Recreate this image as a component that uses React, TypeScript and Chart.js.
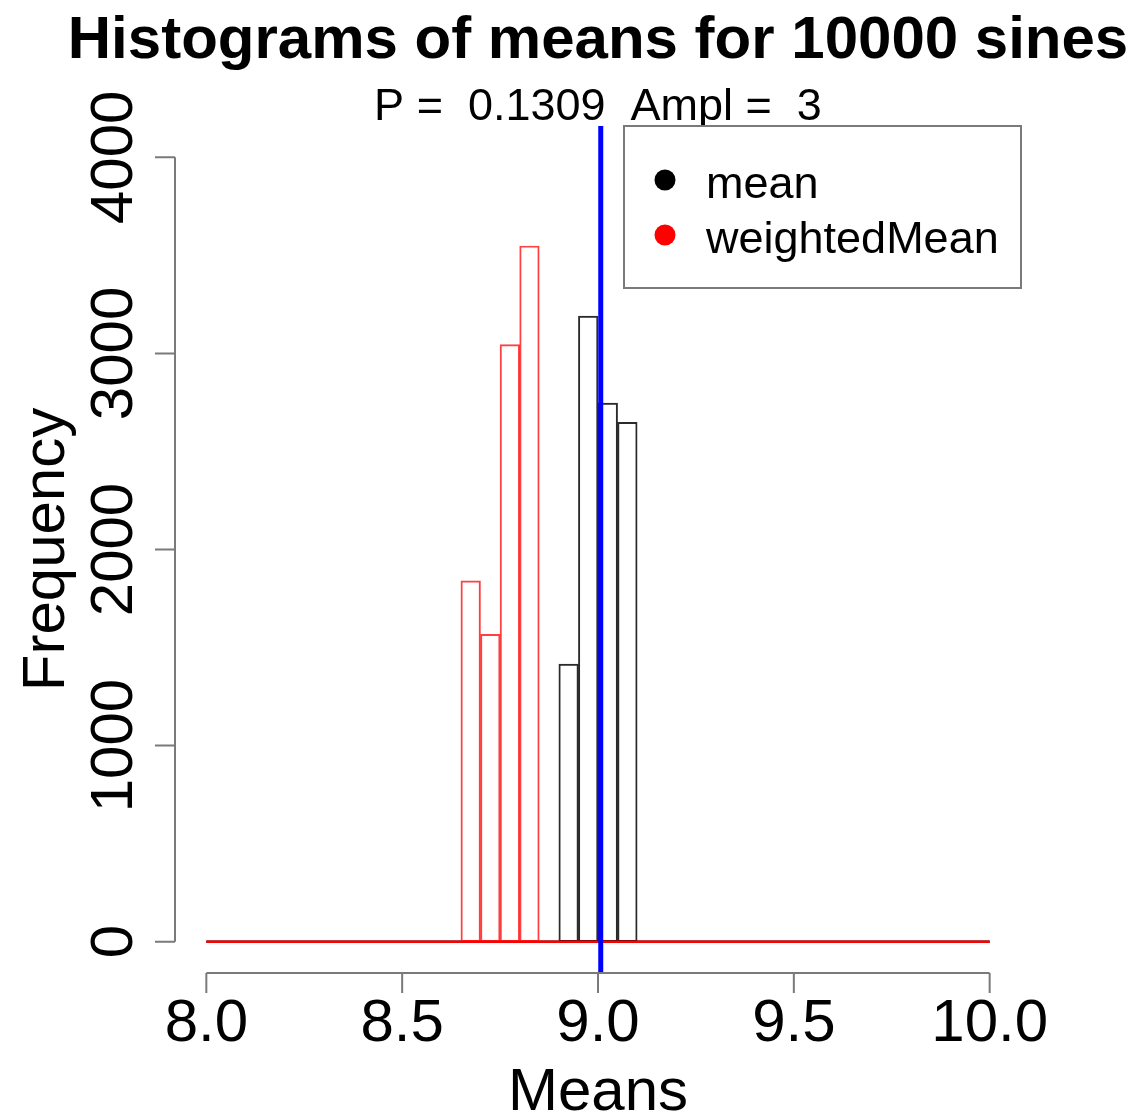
import React, { useEffect, useRef } from "react";
import { Chart, registerables } from "chart.js";

Chart.register(...registerables);

// ---- text ----
const titleText = "Histograms of means for 10000 sines";
const subtitleText = "P =  0.1309  Ampl =  3";
const xAxisTitle = "Means";
const yAxisTitle = "Frequency";
const seriesNames = ["mean", "weightedMean"];
const seriesColors = ["#000000", "#ff0000"];

// ---- data ----
const binWidth = 0.05;
const histRange = [8.0, 10.0];
const meanBinStarts = [8.9, 8.95, 9.0, 9.05];
const meanCounts = [1415, 3190, 2747, 2648];
const weightedBinStarts = [8.65, 8.7, 8.75, 8.8];
const weightedCounts = [1840, 1567, 3045, 3548];
const referenceX = 9.007;

// ---- axes ----
const xTicks = [8.0, 8.5, 9.0, 9.5, 10.0];
const yTicks = [0, 1000, 2000, 3000, 4000];
const xLimits = [7.92, 10.08];
const yLimits = [-160, 4160];

const FONT = '"Liberation Sans", Arial, Helvetica, sans-serif';

const rStylePlugin = {
  id: "rStyle",
  afterDraw(chart: any) {
    const { ctx, chartArea: ca, scales } = chart;
    const xs = scales.x;
    const ys = scales.y;
    const axisColor = "#7a7a7a";
    const tickLen = 20;
    ctx.save();

    // x axis
    ctx.strokeStyle = axisColor;
    ctx.lineWidth = 2;
    ctx.beginPath();
    const xa = xs.getPixelForValue(xTicks[0]);
    const xb = xs.getPixelForValue(xTicks[xTicks.length - 1]);
    ctx.moveTo(xa, ca.bottom);
    ctx.lineTo(xb, ca.bottom);
    xTicks.forEach((t) => {
      const px = xs.getPixelForValue(t);
      ctx.moveTo(px, ca.bottom);
      ctx.lineTo(px, ca.bottom + tickLen);
    });
    // y axis
    const ya = ys.getPixelForValue(yTicks[0]);
    const yb = ys.getPixelForValue(yTicks[yTicks.length - 1]);
    ctx.moveTo(ca.left, ya);
    ctx.lineTo(ca.left, yb);
    yTicks.forEach((t) => {
      const py = ys.getPixelForValue(t);
      ctx.moveTo(ca.left, py);
      ctx.lineTo(ca.left - tickLen, py);
    });
    ctx.stroke();

    // tick labels
    ctx.fillStyle = "#000";
    ctx.font = `60px ${FONT}`;
    ctx.textAlign = "center";
    ctx.textBaseline = "alphabetic";
    xTicks.forEach((t) => {
      ctx.fillText(t.toFixed(1), xs.getPixelForValue(t), ca.bottom + 68);
    });
    yTicks.forEach((t) => {
      const py = ys.getPixelForValue(t);
      ctx.save();
      ctx.translate(ca.left - 43, py);
      ctx.rotate(-Math.PI / 2);
      ctx.fillText(String(t), 0, 0);
      ctx.restore();
    });

    const cx = (ca.left + ca.right) / 2;
    const cy = (ca.top + ca.bottom) / 2;

    // axis titles
    ctx.font = `60px ${FONT}`;
    ctx.fillText(xAxisTitle, cx, 1110);
    ctx.save();
    ctx.translate(64, cy);
    ctx.rotate(-Math.PI / 2);
    ctx.fillText(yAxisTitle, 0, 0);
    ctx.restore();

    // title and subtitle
    ctx.font = `bold 60px ${FONT}`;
    ctx.fillText(titleText, cx, 58);
    ctx.font = `45px ${FONT}`;
    ctx.fillText(subtitleText, cx, 120);

    // legend
    const lw = 397;
    const lh = 162;
    const lx = ca.right - lw;
    const ly = ca.top;
    ctx.fillStyle = "#ffffff";
    ctx.fillRect(lx, ly, lw, lh);
    ctx.strokeStyle = axisColor;
    ctx.lineWidth = 2;
    ctx.strokeRect(lx, ly, lw, lh);
    ctx.font = `45px ${FONT}`;
    ctx.textAlign = "left";
    seriesNames.forEach((name, i) => {
      const rowY = ly + 54 + i * 55;
      ctx.fillStyle = seriesColors[i];
      ctx.beginPath();
      ctx.arc(lx + 41, rowY, 10.5, 0, Math.PI * 2);
      ctx.fill();
      ctx.fillStyle = "#000";
      ctx.fillText(name, lx + 82, rowY + 18);
    });

    ctx.restore();
  },
};

export default function App() {
  const canvasRef = useRef<HTMLCanvasElement | null>(null);

  useEffect(() => {
    if (!canvasRef.current) return;
    const meanData = meanBinStarts.map((s, i) => ({ x: s + binWidth / 2, y: meanCounts[i] }));
    const weightedData = weightedBinStarts.map((s, i) => ({ x: s + binWidth / 2, y: weightedCounts[i] }));
    const baseline = histRange.map((v) => ({ x: v, y: 0 }));

    const chart = new Chart(canvasRef.current, {
      type: "bar",
      data: {
        datasets: [
          {
            type: "line",
            label: "reference",
            data: [
              { x: referenceX, y: yLimits[0] },
              { x: referenceX, y: yLimits[1] },
            ],
            borderColor: "#0000ff",
            borderWidth: 5,
            pointRadius: 0,
            order: 0,
          } as any,
          {
            type: "line",
            label: "weightedBase",
            data: baseline,
            borderColor: "#ff0000",
            borderWidth: 2.5,
            pointRadius: 0,
            order: 1,
          } as any,
          {
            type: "bar",
            label: seriesNames[1],
            data: weightedData,
            borderColor: "rgba(255,30,30,0.85)",
            backgroundColor: "rgba(0,0,0,0)",
            borderWidth: 1.3,
            borderSkipped: false,
            grouped: false,
            barPercentage: 1,
            categoryPercentage: 1,
            order: 2,
          } as any,
          {
            type: "line",
            label: "meanBase",
            data: baseline,
            borderColor: "#000000",
            borderWidth: 2.5,
            pointRadius: 0,
            order: 3,
          } as any,
          {
            type: "bar",
            label: seriesNames[0],
            data: meanData,
            borderColor: "rgba(20,20,20,0.9)",
            backgroundColor: "rgba(0,0,0,0)",
            borderWidth: 1.3,
            borderSkipped: false,
            grouped: false,
            barPercentage: 1,
            categoryPercentage: 1,
            order: 4,
          } as any,
        ],
      },
      options: {
        animation: false,
        responsive: false,
        devicePixelRatio: 1,
        layout: { padding: { left: 175, right: 117, top: 126, bottom: 144 } },
        plugins: {
          legend: { display: false },
          title: { display: false },
          tooltip: { enabled: false },
        },
        scales: {
          x: {
            type: "linear",
            min: xLimits[0],
            max: xLimits[1],
            offset: false,
            display: false,
            ticks: { stepSize: 0.5 },
          },
          y: {
            type: "linear",
            min: yLimits[0],
            max: yLimits[1],
            display: false,
          },
        },
      },
      plugins: [rStylePlugin],
    });
    return () => chart.destroy();
  }, []);

  return (
    <div style={{ position: "absolute", left: 0, top: 0, width: 1138, height: 1117, background: "#fff" }}>
      <canvas ref={canvasRef} width={1138} height={1117} style={{ width: 1138, height: 1117, display: "block" }} />
    </div>
  );
}
